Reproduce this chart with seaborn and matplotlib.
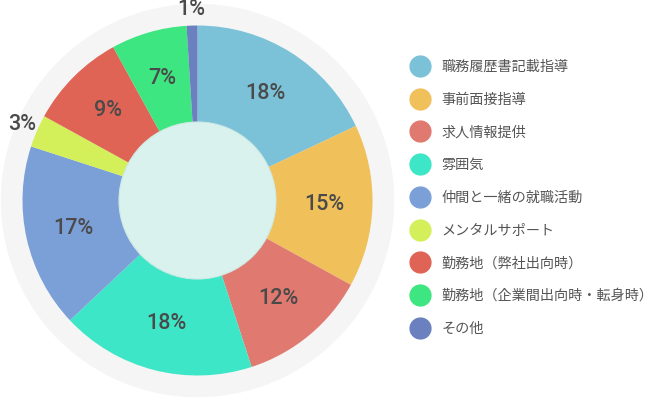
#!/usr/bin/env python3
# Donut chart of support items with a legend on the right

import numpy as np
import seaborn as sns
import matplotlib.pyplot as plt
from matplotlib.patches import Circle
from matplotlib.lines import Line2D

sns.set_style("white")
plt.rcParams['font.family'] = ['Noto Sans CJK JP', 'DejaVu Sans']

ITEMS = [
    "職務履歴書記載指導",
    "事前面接指導",
    "求人情報提供",
    "雰囲気",
    "仲間と一緒の就職活動",
    "メンタルサポート",
    "勤務地（弊社出向時）",
    "勤務地（企業間出向時・転身時）",
    "その他",
]
SHARES = [18, 15, 12, 18, 17, 3, 9, 7, 1]
COLORS = [
    "#7bc2d8", "#f0c05a", "#e07a70", "#3de6c6", "#7ba0d8",
    "#d3ef5a", "#e06455", "#3de680", "#6b80bf",
]

W, H = 656, 399
CX, CY = 197.5, H - 200.5
R = 175

fig = plt.figure(figsize=(W / 100, H / 100), dpi=100)
ax = fig.add_axes([0, 0, 1, 1])

ax.add_patch(Circle((CX, CY), 196, color="#f5f5f5", zorder=0))

wedges, _, pcts = ax.pie(
    SHARES, colors=COLORS, startangle=90, counterclock=False,
    radius=R, center=(CX, CY), autopct="%.0f%%", pctdistance=0.725,
    wedgeprops=dict(linewidth=0),
    textprops=dict(color="#4a4a4a", fontsize=15.5, family="Roboto",
                   fontweight="medium"),
)

# small slices get their label outside the ring
for w, t, v in zip(wedges, pcts, SHARES):
    if v < 5:
        ang = np.deg2rad((w.theta1 + w.theta2) / 2)
        t.set_position((CX + 1.09 * R * np.cos(ang), CY + 1.09 * R * np.sin(ang)))

ax.add_patch(Circle((CX, CY), 78.5, facecolor="#d9f2ee", edgecolor="#cfe9e5",
                    linewidth=0.8, zorder=5))

ax.set_xlim(0, W)
ax.set_ylim(0, H)
ax.set_aspect("auto")
ax.axis("off")

handles = [Line2D([], [], marker="o", linestyle="", markersize=15,
                  markerfacecolor=c, markeredgecolor=c) for c in COLORS]
leg = ax.legend(
    handles, ITEMS, loc="upper left", bbox_to_anchor=(411 / W, 1 - 60 / H),
    frameon=False, fontsize=10.2, labelspacing=1.32, handletextpad=0.93,
    handlelength=1.23, borderpad=0, borderaxespad=0,
)
for t in leg.get_texts():
    t.set_color("#555555")

fig.savefig("out.png", dpi=100)
